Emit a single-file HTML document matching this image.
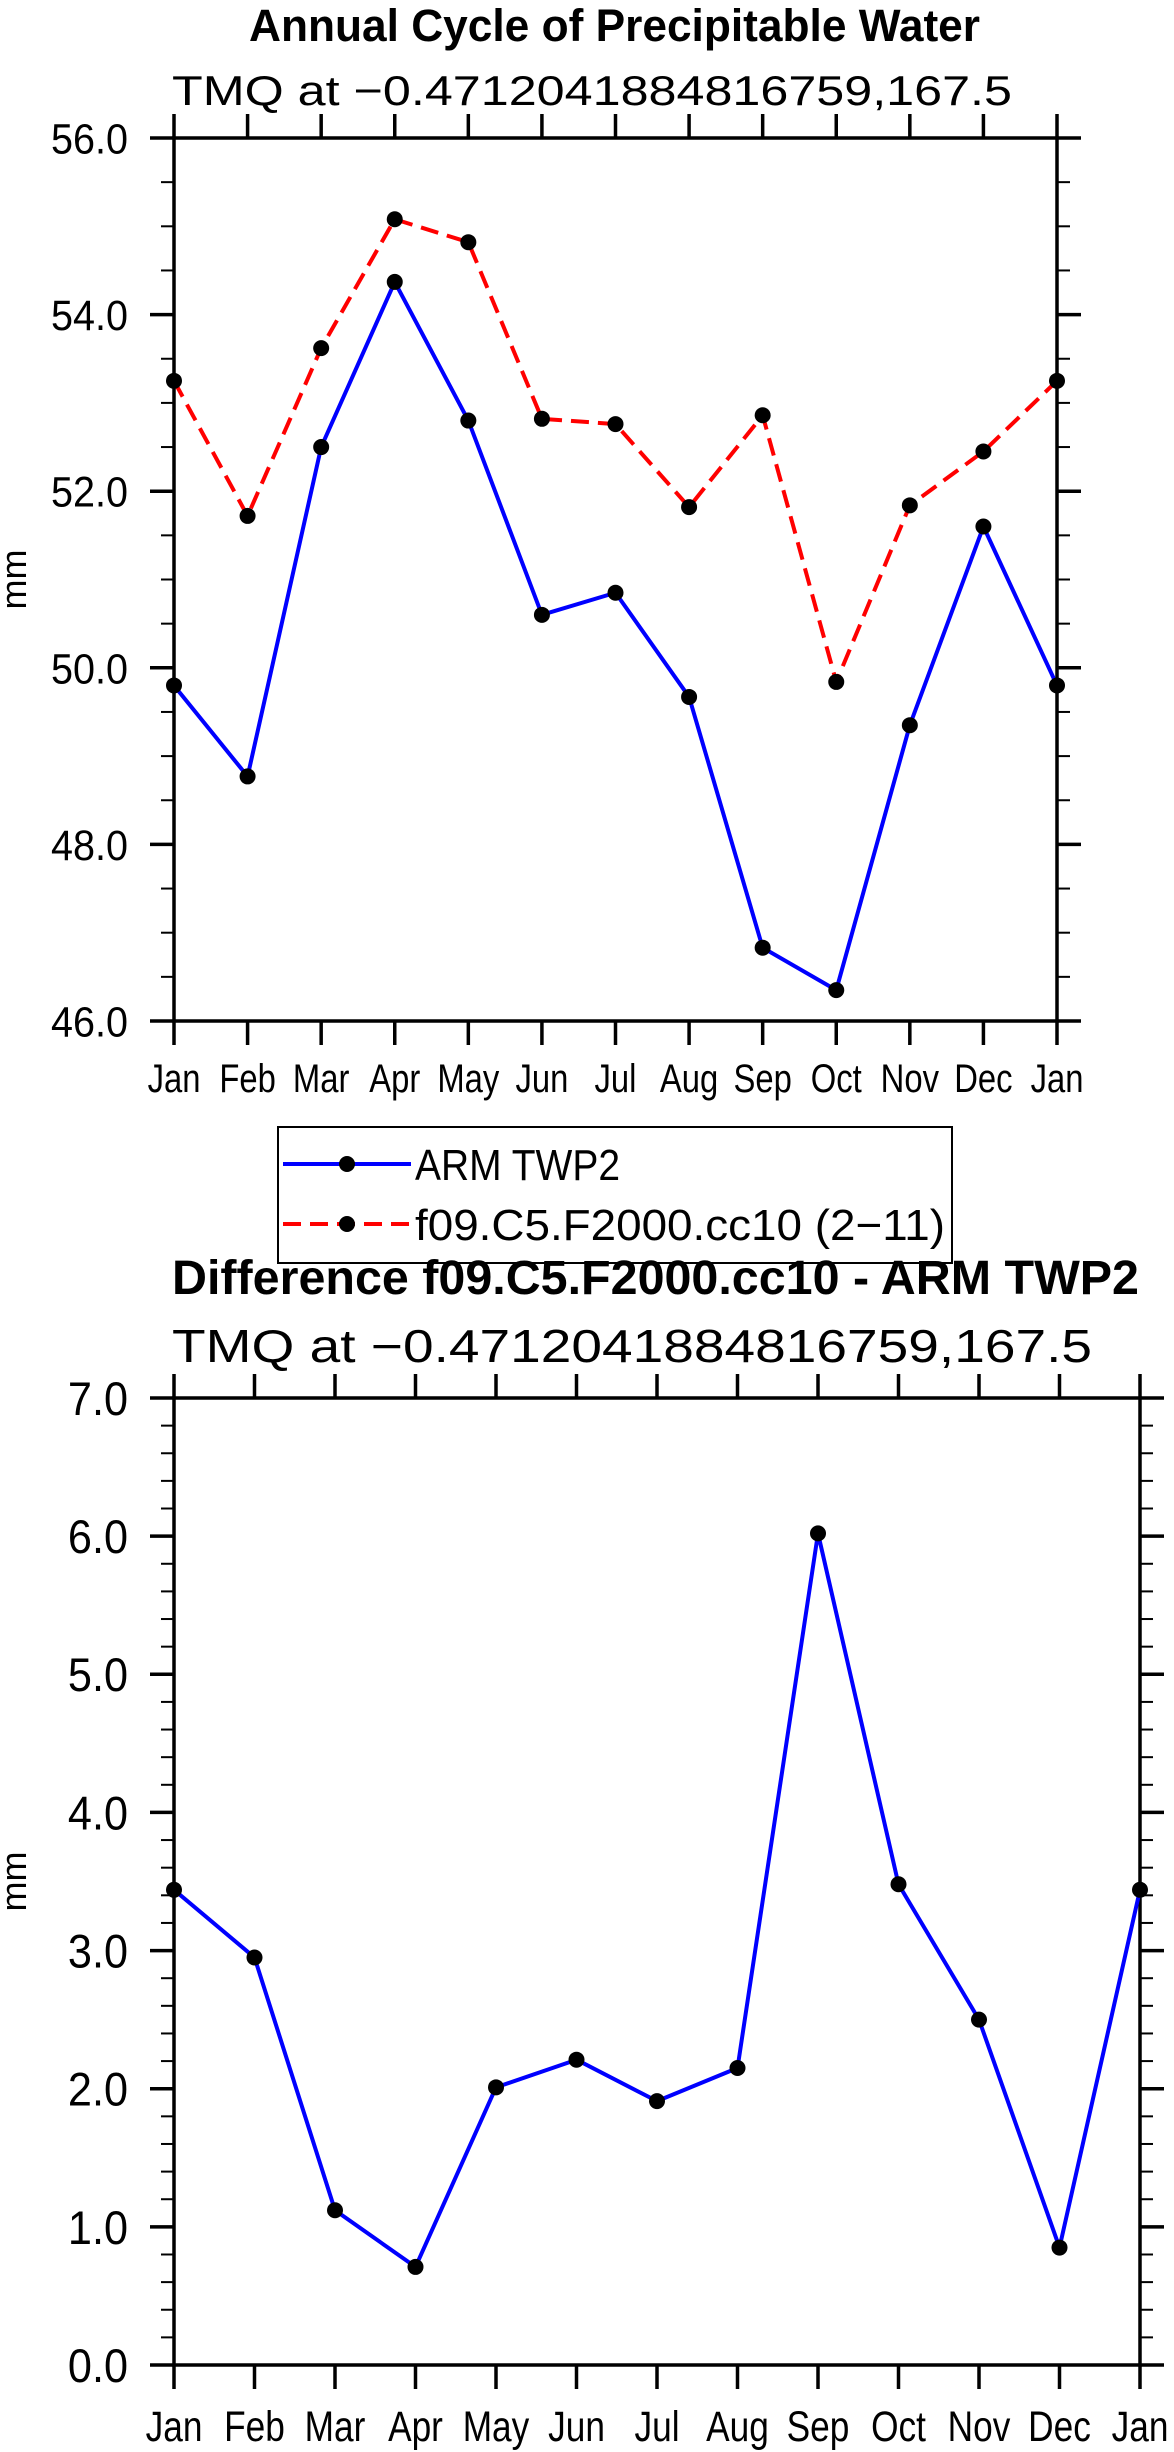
<!DOCTYPE html>
<html><head><meta charset="utf-8"><style>
html,body{margin:0;padding:0;background:#fff}
svg{display:block;font-family:"Liberation Sans",sans-serif}
</style></head><body>
<svg id="s" width="1174" height="2452" viewBox="0 0 1174 2452" xmlns="http://www.w3.org/2000/svg">
<text x="249" y="41" font-size="45" font-weight="bold" textLength="731" lengthAdjust="spacingAndGlyphs">Annual Cycle of Precipitable Water</text>
<text x="172" y="105" font-size="42" textLength="840" lengthAdjust="spacingAndGlyphs">TMQ at −0.4712041884816759,167.5</text>
<text x="172" y="1294" font-size="48" font-weight="bold" textLength="967" lengthAdjust="spacingAndGlyphs">Difference f09.C5.F2000.cc10 - ARM TWP2</text>
<text x="172" y="1362" font-size="46" textLength="920" lengthAdjust="spacingAndGlyphs">TMQ at −0.4712041884816759,167.5</text>
<g>
<rect x="278" y="1127" width="674" height="136" fill="none" stroke="#000" stroke-width="2"/>
<g>
<line x1="283" y1="1164" x2="411" y2="1164" stroke="#00f" stroke-width="4"/>
<circle cx="347" cy="1164" r="8"/>
<text x="415" y="1180" font-size="44" textLength="205" lengthAdjust="spacingAndGlyphs">ARM TWP2</text></g>
<g>
<line x1="283" y1="1224" x2="411" y2="1224" stroke="#f00" stroke-width="4" stroke-dasharray="18,9"/>
<circle cx="347" cy="1224" r="8"/>
<text x="415" y="1240" font-size="44" textLength="530" lengthAdjust="spacingAndGlyphs">f09.C5.F2000.cc10 (2−11)</text></g>
</g>
<g id="p1"></g><g id="p2"></g>
</svg>
<script>
const months = ["Jan","Feb","Mar","Apr","May","Jun","Jul","Aug","Sep","Oct","Nov","Dec","Jan"];
const armValues = [49.8,48.77,52.5,54.37,52.8,50.6,50.85,49.67,46.83,46.35,49.35,51.6,49.8];
const modelValues = [53.25,51.72,53.62,55.08,54.82,52.82,52.76,51.82,52.86,49.84,51.84,52.45,53.25];
const diffValues = [3.44,2.95,1.12,0.71,2.01,2.21,1.91,2.15,6.02,3.48,2.50,0.85,3.44];
const topTicks = ["46.0","48.0","50.0","52.0","54.0","56.0"];
const bottomTicks = ["0.0","1.0","2.0","3.0","4.0","5.0","6.0","7.0"];
const NS="http://www.w3.org/2000/svg";
function mk(parent,tag,attrs){const e=document.createElementNS(NS,tag);for(const k in attrs)e.setAttribute(k,attrs[k]);parent.appendChild(e);return e;}
function plot(g,L,R,T,B,ymin,ymax,minorStep,ticks,series,fs,xfs,xlabY){
  const xs=i=>L+(R-L)*i/(months.length-1);
  const ys=v=>B-(B-T)*(v-ymin)/(ymax-ymin);
  const ax=mk(g,'g',{});
  
  
  mk(ax,'rect',{x:L,y:T,width:R-L,height:B-T,fill:'none',stroke:'#000','stroke-width':3.5});
  for(let v=ymin;v<=ymax+1e-6;v+=minorStep){const y=ys(v);
    mk(ax,'line',{x1:L-13,y1:y,x2:L,y2:y,stroke:'#000','stroke-width':2});
    mk(ax,'line',{x1:R,y1:y,x2:R+13,y2:y,stroke:'#000','stroke-width':2});}
  ticks.forEach(t=>{const y=ys(parseFloat(t));
    mk(ax,'line',{x1:L-24,y1:y,x2:L,y2:y,stroke:'#000','stroke-width':3.5});
    mk(ax,'line',{x1:R,y1:y,x2:R+24,y2:y,stroke:'#000','stroke-width':3.5});
    const tx=mk(ax,'text',{x:0,y:0,'font-size':fs,'text-anchor':'end',transform:`translate(${L-46},${y+fs*0.36}) scale(0.92,1)`});
    
    
    tx.textContent=t;});
  months.forEach((m,i)=>{const x=xs(i);
    mk(ax,'line',{x1:x,y1:B,x2:x,y2:B+24,stroke:'#000','stroke-width':3.5});
    mk(ax,'line',{x1:x,y1:T-24,x2:x,y2:T,stroke:'#000','stroke-width':3.5});
    const tx=mk(ax,'text',{x:0,y:0,'font-size':xfs,'text-anchor':'middle',transform:`translate(${x},${xlabY}) scale(0.82,1)`});
    
    
    tx.textContent=m;});
  const yt=mk(ax,'text',{x:0,y:0,'font-size':36,'text-anchor':'middle',transform:`translate(${26},${(T+B)/2}) rotate(-90)`});
  
  
  yt.textContent='mm';
  series.forEach(s=>{
    const sg=mk(g,'g',{});
    
    
    const pts=s.vals.map((v,i)=>xs(i)+','+ys(v)).join(' ');
    const a={points:pts,fill:'none',stroke:s.color,'stroke-width':4,'stroke-linejoin':'round'};
    if(s.dash)a['stroke-dasharray']=s.dash;
    mk(sg,'polyline',a);
    s.vals.forEach((v,i)=>{const c=mk(sg,'circle',{cx:xs(i),cy:ys(v),r:8,fill:'#000'});
      
      });
  });
}
plot(document.getElementById('p1'),174,1057,138,1021,46,56,0.5,topTicks,
 [{name:'series-arm',vals:armValues,color:'#00f'},{name:'series-model',vals:modelValues,color:'#f00',dash:'18,9'}],43,40,1092);
plot(document.getElementById('p2'),174,1140,1398,2365,0,7,0.2,bottomTicks,
 [{name:'series-difference',vals:diffValues,color:'#00f'}],47,43,2441);
</script>
</body></html>
